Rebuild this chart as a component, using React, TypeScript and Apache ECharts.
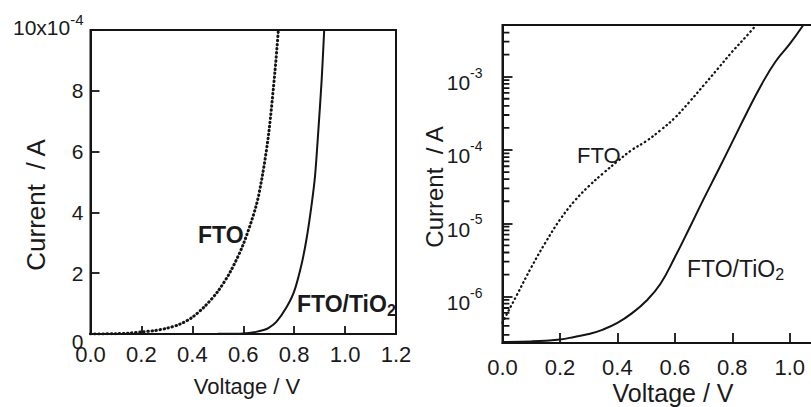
import React, { useEffect, useRef } from 'react';
import * as echarts from 'echarts';

// ---- Left panel (linear current, units of 10^-4 A) ----
const LEFT_FTO_V = [0, 0.1, 0.15, 0.2, 0.25, 0.3, 0.35, 0.4, 0.45, 0.5, 0.55, 0.6, 0.65, 0.675, 0.7, 0.725, 0.738];
const LEFT_FTO_I = [0, 0.01, 0.03, 0.07, 0.11, 0.19, 0.32, 0.55, 0.92, 1.4, 2.06, 2.95, 4.2, 5.2, 6.6, 8.68, 10];
const LEFT_TIO2_V = [0, 0.3, 0.5, 0.6, 0.65, 0.68, 0.7, 0.73, 0.77, 0.8, 0.83, 0.85, 0.87, 0.882, 0.895, 0.908, 0.918];
const LEFT_TIO2_I = [0, 0, 0.005, 0.02, 0.07, 0.13, 0.2, 0.4, 0.88, 1.4, 2.33, 3.2, 4.35, 5.2, 6.7, 8.36, 10];

// ---- Right panel (log current, A) ----
const RIGHT_FTO_V = [0, 0.02, 0.05, 0.1, 0.15, 0.2, 0.25, 0.3, 0.35, 0.4, 0.45, 0.5, 0.55, 0.6, 0.65, 0.7, 0.75, 0.8, 0.85, 0.88];
const RIGHT_FTO_I = [4.4e-7, 6.3e-7, 1.05e-6, 2.5e-6, 5.5e-6, 1.12e-5, 2.0e-5, 3.2e-5, 4.8e-5, 7.0e-5, 1.0e-4, 1.32e-4, 1.86e-4, 2.75e-4, 4.5e-4, 7.6e-4, 1.29e-3, 2.2e-3, 3.6e-3, 4.9e-3];
const RIGHT_TIO2_V = [0, 0.1, 0.15, 0.2, 0.25, 0.3, 0.35, 0.4, 0.45, 0.5, 0.55, 0.6, 0.65, 0.7, 0.75, 0.8, 0.85, 0.9, 0.95, 1.0, 1.046];
const RIGHT_TIO2_I = [2.4e-7, 2.45e-7, 2.5e-7, 2.6e-7, 2.82e-7, 3.09e-7, 3.55e-7, 4.37e-7, 5.9e-7, 8.7e-7, 1.5e-6, 3.45e-6, 8.5e-6, 2.14e-5, 5.2e-5, 1.29e-4, 3.2e-4, 7.6e-4, 1.6e-3, 2.8e-3, 5.0e-3];

const RIGHT_Y_MIN = 2.33e-7;
const RIGHT_Y_MAX = 5.07e-3;
const MINOR_DECADES = [-7, -6, -5, -4, -3];
const MINOR_MULTS = [2, 3, 4, 5, 6, 7, 8, 9];
const MINOR_TICK_LEN_V = 0.024; // minor tick length expressed along the voltage axis

const FONT = '"Liberation Sans", Arial, Helvetica, sans-serif';
const INK = '#141414';
const TXT = '#1a1a1a';

const zip = (a: number[], b: number[]) => a.map((v, i) => [v, b[i]]);

export default function App() {
  const ref = useRef<HTMLDivElement>(null);
  useEffect(() => {
    if (!ref.current) return;
    const chart = echarts.init(ref.current, undefined, { renderer: 'svg' });

    // minor ticks of the log axis as short horizontal segments, gaps between them
    const minorTickData: any[] = [];
    MINOR_DECADES.forEach((e) => {
      MINOR_MULTS.forEach((k) => {
        const v = k * Math.pow(10, e);
        if (v > RIGHT_Y_MIN && v < RIGHT_Y_MAX * 0.98) {
          minorTickData.push([0, v], [MINOR_TICK_LEN_V, v], ['-', '-']);
        }
      });
    });

    const gridBase = {
      show: true,
      borderColor: INK,
      borderWidth: 2,
      backgroundColor: 'transparent',
      containLabel: false,
      outerBoundsMode: 'none',
    };
    const axisLineStyle = { show: true, onZero: false, lineStyle: { color: INK, width: 2 } };

    const option: any = {
      animation: false,
      backgroundColor: '#ffffff',
      grid: [
        { ...gridBase, left: 90.5, top: 30, right: 415, bottom: 73 },
        { ...gridBase, left: 502.5, top: 25, right: -7.5, bottom: 64 },
      ],
      xAxis: [
        {
          gridIndex: 0,
          type: 'value',
          min: 0,
          max: 1.2,
          interval: 0.2,
          axisLine: axisLineStyle,
          splitLine: { show: false },
          axisTick: { show: true, inside: true, length: 8, lineStyle: { color: INK, width: 1.8 } },
          axisLabel: {
            margin: 9,
            color: TXT,
            fontFamily: FONT,
            fontSize: 22,
            formatter: (v: number) => v.toFixed(1),
          },
        },
        {
          gridIndex: 1,
          type: 'value',
          min: 0,
          max: 1.1,
          interval: 0.2,
          axisLine: axisLineStyle,
          splitLine: { show: false },
          axisTick: { show: true, inside: true, length: 10, lineStyle: { color: INK, width: 1.8 } },
          axisLabel: {
            margin: 13,
            color: TXT,
            fontFamily: FONT,
            fontSize: 22,
            showMaxLabel: false,
            formatter: (v: number) => v.toFixed(1),
          },
        },
      ],
      yAxis: [
        {
          gridIndex: 0,
          type: 'value',
          min: 0,
          max: 10,
          interval: 2,
          axisLine: axisLineStyle,
          splitLine: { show: false },
          axisTick: { show: true, inside: true, length: 9, lineStyle: { color: INK, width: 1.8 } },
          axisLabel: {
            margin: 7,
            color: TXT,
            fontFamily: FONT,
            fontSize: 21,
            formatter: (v: number) =>
              v === 10 ? '{t|10x10}{s|-4}' : v === 0 ? '{z|0}' : '{m|' + String(v) + '}',
            rich: {
              m: { fontFamily: FONT, fontSize: 21, color: TXT },
              z: { fontFamily: FONT, fontSize: 21, color: TXT, padding: [14, 0, 0, 0] },
              t: { fontFamily: FONT, fontSize: 21, lineHeight: 21, color: TXT, padding: [0, 0, 5, 0] },
              s: { fontFamily: FONT, fontSize: 15, lineHeight: 15, color: TXT, padding: [0, 0, 22, 0] },
            },
          },
        },
        {
          gridIndex: 1,
          type: 'log',
          logBase: 10,
          min: RIGHT_Y_MIN,
          max: RIGHT_Y_MAX,
          axisLine: axisLineStyle,
          splitLine: { show: false },
          axisTick: { show: true, inside: true, length: 10, lineStyle: { color: INK, width: 1.8 } },
          axisLabel: {
            margin: 20,
            color: TXT,
            fontFamily: FONT,
            fontSize: 21,
            showMinLabel: false,
            showMaxLabel: false,
            formatter: (v: number) => {
              const l = Math.log10(v);
              const r = Math.round(l);
              if (Math.abs(l - r) > 1e-6) return '';
              return '{m|10}{s|' + String(r) + '}';
            },
            rich: {
              m: { fontFamily: FONT, fontSize: 21, lineHeight: 21, color: TXT, padding: [12, 0, 0, 0] },
              s: { fontFamily: FONT, fontSize: 14, lineHeight: 14, color: TXT, padding: [0, 0, 8, 0] },
            },
          },
        },
      ],
      series: [
        {
          type: 'line',
          xAxisIndex: 0,
          yAxisIndex: 0,
          data: zip(LEFT_FTO_V, LEFT_FTO_I),
          showSymbol: false,
          smooth: 0.3,
          lineStyle: { color: INK, width: 3, type: [0.5, 3.6], cap: 'round' },
          z: 5,
        },
        {
          type: 'line',
          xAxisIndex: 0,
          yAxisIndex: 0,
          data: zip(LEFT_TIO2_V, LEFT_TIO2_I),
          showSymbol: false,
          smooth: 0.3,
          lineStyle: { color: INK, width: 2 },
          z: 5,
        },
        {
          type: 'line',
          xAxisIndex: 1,
          yAxisIndex: 1,
          data: zip(RIGHT_FTO_V, RIGHT_FTO_I),
          showSymbol: false,
          smooth: 0.4,
          lineStyle: { color: INK, width: 2.3, type: [0.5, 4], cap: 'round' },
          z: 5,
        },
        {
          type: 'line',
          xAxisIndex: 1,
          yAxisIndex: 1,
          data: zip(RIGHT_TIO2_V, RIGHT_TIO2_I),
          showSymbol: false,
          smooth: 0.45,
          lineStyle: { color: INK, width: 2 },
          z: 5,
        },
        {
          type: 'line',
          xAxisIndex: 1,
          yAxisIndex: 1,
          data: minorTickData,
          showSymbol: false,
          connectNulls: false,
          silent: true,
          lineStyle: { color: INK, width: 1.8 },
          z: 6,
        },
      ],
      graphic: [
        {
          type: 'text', x: 36, y: 205, rotation: Math.PI / 2,
          style: { text: 'Current  / A', fontFamily: FONT, fontSize: 26, fill: TXT, align: 'center', verticalAlign: 'middle' },
        },
        {
          type: 'text', x: 247, y: 386,
          style: { text: 'Voltage / V', fontFamily: FONT, fontSize: 22, fill: TXT, align: 'center', verticalAlign: 'middle' },
        },
        {
          type: 'text', x: 434, y: 187, rotation: Math.PI / 2,
          style: { text: 'Current  / A', fontFamily: FONT, fontSize: 24, fill: TXT, align: 'center', verticalAlign: 'middle' },
        },
        {
          type: 'text', x: 673, y: 393,
          style: { text: 'Voltage / V', fontFamily: FONT, fontSize: 25, fill: TXT, align: 'center', verticalAlign: 'middle' },
        },
        {
          type: 'text', x: 198, y: 235,
          style: { text: 'FTO', fontFamily: FONT, fontSize: 23, fontWeight: 'bold', fill: TXT, align: 'left', verticalAlign: 'middle' },
        },
        {
          type: 'text', x: 297, y: 304,
          style: {
            text: '{m|FTO/TiO}{s|2}', align: 'left', verticalAlign: 'middle',
            rich: {
              m: { fontFamily: FONT, fontSize: 23, lineHeight: 23, fontWeight: 'bold', fill: TXT },
              s: { fontFamily: FONT, fontSize: 16, lineHeight: 16, fontWeight: 'bold', fill: TXT, padding: [12, 0, 0, 0] },
            },
          },
        },
        {
          type: 'text', x: 577, y: 155.5,
          style: { text: 'FTO', fontFamily: FONT, fontSize: 22, fill: TXT, align: 'left', verticalAlign: 'middle' },
        },
        {
          type: 'text', x: 687, y: 269,
          style: {
            text: '{m|FTO/TiO}{s|2}', align: 'left', verticalAlign: 'middle',
            rich: {
              m: { fontFamily: FONT, fontSize: 23, lineHeight: 23, fill: TXT },
              s: { fontFamily: FONT, fontSize: 16, lineHeight: 16, fill: TXT, padding: [11, 0, 0, 0] },
            },
          },
        },
      ],
    };

    chart.setOption(option);
    return () => chart.dispose();
  }, []);

  return (
    <div
      ref={ref}
      style={{ position: 'fixed', left: 0, top: 0, width: 811, height: 407, background: '#fff' }}
    />
  );
}
